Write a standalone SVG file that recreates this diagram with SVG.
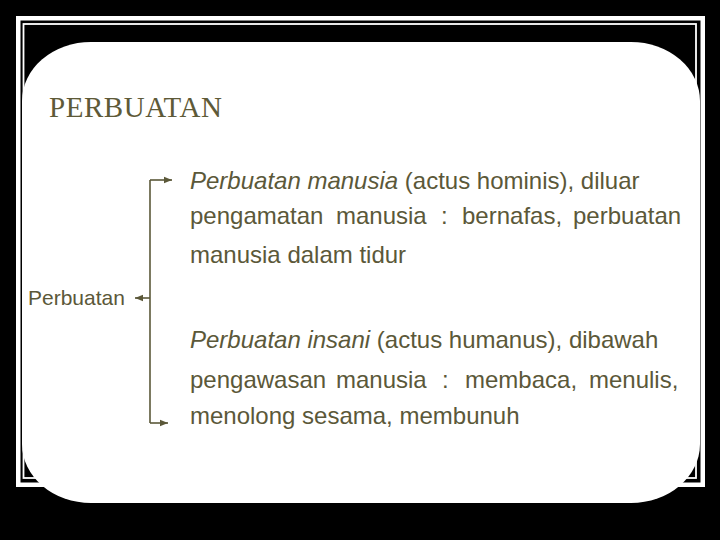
<svg xmlns="http://www.w3.org/2000/svg" width="720" height="540" viewBox="0 0 720 540">
  <style>
    .frame { fill: none; stroke: #ffffff; }
    .body { font-family: "Liberation Sans", Arial, sans-serif; font-size: 24px; fill: #5b5839; }
    .label { font-family: "Liberation Sans", Arial, sans-serif; font-size: 21px; fill: #5b5839; }
    .title { font-family: "Liberation Serif", "Times New Roman", serif; font-size: 29px; fill: #5e5a38; }
    .conn { fill: none; stroke: #5b5839; stroke-width: 1.6; }
    .it { font-style: italic; }
  </style>
  <defs>
    <marker id="arrow" markerUnits="userSpaceOnUse" markerWidth="9" markerHeight="8" refX="8" refY="4" orient="auto">
      <path d="M0,0.8 L8,4 L0,7.2 Z" fill="#5b5839"/>
    </marker>
  </defs>

  <g id="background">
    <rect x="0" y="0" width="720" height="540" fill="#000000"/>
    <rect class="frame" x="18.25" y="18.25" width="684.5" height="466.5" stroke-width="4.5"/>
    <rect class="frame" x="23.5" y="24" width="672.5" height="454" stroke-width="1.8"/>
    <rect x="22" y="42" width="678" height="461" rx="69" ry="59" fill="#ffffff"/>
  </g>

  <g id="title">
    <text class="title" x="49" y="117" textLength="173" lengthAdjust="spacing">PERBUATAN</text>
  </g>

  <g id="connectors">
    <path class="conn" d="M150,180 L150,423"/>
    <path class="conn" d="M150,180 L172,180" marker-end="url(#arrow)"/>
    <path class="conn" d="M150,298 L135,298" marker-end="url(#arrow)"/>
    <path class="conn" d="M150,423 L168,423" marker-end="url(#arrow)"/>
  </g>

  <g id="node-perbuatan">
    <text class="label" x="28" y="305">Perbuatan</text>
  </g>

  <g id="node-manusia">
    <text class="body" x="190" y="189"><tspan class="it">Perbuatan manusia</tspan> (actus hominis), diluar</text>
    <text class="body" y="224"><tspan x="190">pengamatan</tspan><tspan x="336">manusia</tspan><tspan x="441">:</tspan><tspan x="462">bernafas,</tspan><tspan x="573">perbuatan</tspan></text>
    <text class="body" x="190" y="263">manusia dalam tidur</text>
  </g>

  <g id="node-insani">
    <text class="body" x="190" y="348"><tspan class="it">Perbuatan insani</tspan> (actus humanus), dibawah</text>
    <text class="body" y="388"><tspan x="190">pengawasan</tspan><tspan x="336">manusia</tspan><tspan x="442">:</tspan><tspan x="465">membaca,</tspan><tspan x="589">menulis,</tspan></text>
    <text class="body" x="190" y="424">menolong sesama, membunuh</text>
  </g>
</svg>
